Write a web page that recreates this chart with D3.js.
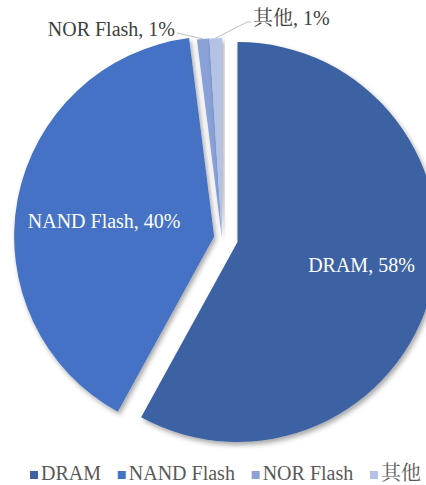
<!DOCTYPE html>
<html>
<head>
<meta charset="utf-8">
<script src="https://cdn.jsdelivr.net/npm/d3@7"></script>
<style>
  html, body { margin: 0; padding: 0; background: #fff; }
  svg { display: block; }
  .lbl { font-family: "Liberation Serif", "Noto Serif CJK SC", serif; font-size: 20px; }
  .leg { font-family: "Liberation Serif", "Noto Serif CJK SC", serif; font-size: 20px; fill: #595959; }
</style>
</head>
<body>
<svg id="chart" width="426" height="485"></svg>
<script>
// ---- data ----
const categories = ["DRAM", "NAND Flash", "NOR Flash", "其他"];
const shares = [58, 40, 1, 1];
const percentLabels = ["58%", "40%", "1%", "1%"];

// ---- styles ----
const colors = ["#3e62a3", "#4472c4", "#89a1d7", "#b4c3e5"];
const explode = [16, 8, 0, 0];
const W = 426, H = 485;
const cx = 222, cy = 238, R = 200;
// label radius (fraction of R) and baseline shift for inside labels
const insideLabelStyle = [{ r: 0.64, dy: -1.5 }, { r: 0.56, dy: 12.5 }];

const svg = d3.select("#chart");
const defs = svg.append("defs");
const f = defs.append("filter").attr("id", "shadow")
  .attr("x", "-10%").attr("y", "-10%").attr("width", "130%").attr("height", "130%");
f.append("feDropShadow").attr("dx", 2).attr("dy", 3).attr("stdDeviation", 2.5)
  .attr("flood-color", "#000").attr("flood-opacity", 0.35);

const data = categories.map((c, i) => ({ name: c, value: shares[i], label: percentLabels[i], i }));
const pie = d3.pie().value(d => d.value).sort(null).startAngle(0).endAngle(2 * Math.PI);
const arcs = pie(data);
const arc = d3.arc().innerRadius(0).outerRadius(R);

const g = svg.append("g").attr("transform", `translate(${cx},${cy})`);

function offset(a) {
  const m = (a.startAngle + a.endAngle) / 2;
  const e = explode[a.data.i];
  return [Math.sin(m) * e, -Math.cos(m) * e];
}

g.selectAll("path.slice").data(arcs).enter().append("path")
  .attr("class", "slice")
  .attr("d", arc)
  .attr("fill", d => colors[d.data.i])
  .attr("filter", "url(#shadow)")
  .attr("transform", d => { const o = offset(d); return `translate(${o[0]},${o[1]})`; });

// inside labels (DRAM, NAND)
arcs.slice(0, 2).forEach(a => {
  const m = (a.startAngle + a.endAngle) / 2;
  const o = offset(a);
  const st = insideLabelStyle[a.data.i];
  const rr = R * st.r;
  const x = Math.sin(m) * rr + o[0];
  const y = -Math.cos(m) * rr + o[1] + st.dy;
  g.append("text")
    .attr("class", "lbl")
    .attr("x", x).attr("y", y)
    .attr("text-anchor", "middle")
    .attr("fill", "#ffffff")
    .text(`${a.data.name}, ${a.data.label}`);
});

// outside labels with leader lines (NOR, 其他)
const norArc = arcs[2], othArc = arcs[3];
function edgePoint(a, rr) {
  const m = (a.startAngle + a.endAngle) / 2;
  const o = offset(a);
  return [Math.sin(m) * rr + o[0], -Math.cos(m) * rr + o[1]];
}
const pNor = edgePoint(norArc, R);
const pOth = edgePoint(othArc, R);

const lineColor = "#bfbfbf";
g.append("text")
  .attr("class", "lbl")
  .attr("x", 175 - cx).attr("y", 36 - cy)
  .attr("text-anchor", "end")
  .attr("fill", "#404040")
  .text(`${norArc.data.name}, ${norArc.data.label}`);
g.append("polyline")
  .attr("points", [[177 - cx, 33 - cy], [pNor[0], pNor[1]]].map(p => p.join(",")).join(" "))
  .attr("fill", "none").attr("stroke", lineColor).attr("stroke-width", 1);

g.append("text")
  .attr("class", "lbl")
  .attr("x", 253 - cx).attr("y", 25 - cy)
  .attr("text-anchor", "start")
  .attr("fill", "#404040")
  .text(`${othArc.data.name}, ${othArc.data.label}`);
g.append("polyline")
  .attr("points", [[pOth[0], pOth[1]], [247 - cx, 22 - cy], [251 - cx, 22 - cy]].map(p => p.join(",")).join(" "))
  .attr("fill", "none").attr("stroke", lineColor).attr("stroke-width", 1);

// ---- legend ----
const legend = svg.append("g").attr("class", "legend");
const items = legend.selectAll("g.item").data(data).enter().append("g").attr("class", "item");
items.append("rect").attr("width", 8).attr("height", 8).attr("y", -9)
  .attr("fill", d => colors[d.i]);
items.append("text").attr("class", "leg").attr("x", 11).attr("y", 0)
  .text(d => d.name);
let widths = [];
items.each(function () { widths.push(11 + this.querySelector("text").getComputedTextLength()); });
const legendLeft = 30, legendRight = 421;
const gap = (legendRight - legendLeft - d3.sum(widths)) / (widths.length - 1);
let x0 = legendLeft;
items.each(function (d, i) {
  d3.select(this).attr("transform", `translate(${x0},480)`);
  x0 += widths[i] + gap;
});
</script>
</body>
</html>
